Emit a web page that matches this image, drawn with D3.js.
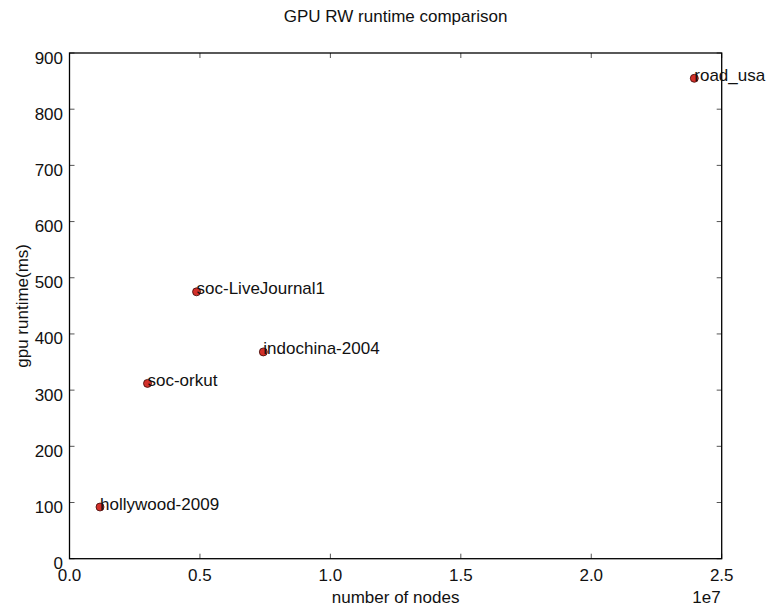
<!DOCTYPE html>
<html><head><meta charset="utf-8">
<script src="https://cdn.jsdelivr.net/npm/d3@7"></script>
<style>
html,body{margin:0;padding:0;background:#fff;}
svg{display:block;font-family:"Liberation Sans",Arial,Helvetica,sans-serif;}
</style></head>
<body>
<svg id="chart" width="767" height="607"></svg>
<script>
const names = ["hollywood-2009","soc-orkut","soc-LiveJournal1","indochina-2004","road_usa"];
const nodes = [1.17e6, 2.99e6, 4.87e6, 7.43e6, 23.95e6];
const runtime = [92, 312, 475, 368, 855];
const xTicks = [0, 0.5e7, 1.0e7, 1.5e7, 2.0e7, 2.5e7];
const yTicks = [0, 100, 200, 300, 400, 500, 600, 700, 800, 900];

const svg = d3.select("#chart");
const L = 69.5, R = 721.7, T = 53, B = 558.7;
const x = d3.scaleLinear().domain([0, 2.5e7]).range([L, R]);
const y = d3.scaleLinear().domain([0, 900]).range([B, T]);
const fs = 17;

// title
svg.append("text").attr("x", (L+R)/2).attr("y", 22).attr("text-anchor","middle")
  .attr("font-size", fs).attr("fill","#111").text("GPU RW runtime comparison");

// ticks (inside, all four sides)
const tl = 5;
const tg = svg.append("g").attr("stroke","#555").attr("stroke-width",1);
xTicks.forEach(v=>{
  tg.append("line").attr("x1",x(v)).attr("x2",x(v)).attr("y1",B).attr("y2",B-tl);
  tg.append("line").attr("x1",x(v)).attr("x2",x(v)).attr("y1",T).attr("y2",T+tl);
});
yTicks.forEach(v=>{
  tg.append("line").attr("x1",L).attr("x2",L+tl).attr("y1",y(v)).attr("y2",y(v));
  tg.append("line").attr("x1",R).attr("x2",R-tl).attr("y1",y(v)).attr("y2",y(v));
});

// frame
svg.append("rect").attr("x",L).attr("y",T).attr("width",R-L).attr("height",B-T)
  .attr("fill","none").attr("stroke","#000").attr("stroke-width",1.3);

// tick labels
svg.append("g").selectAll("text").data(xTicks).join("text")
  .attr("x", d=>x(d)).attr("y", B+22).attr("text-anchor","middle")
  .attr("font-size", fs).attr("fill","#111").text(d=>(d/1e7).toFixed(1));
svg.append("g").selectAll("text").data(yTicks).join("text")
  .attr("x", L-6.5).attr("y", d=>y(d)+10.5).attr("text-anchor","end")
  .attr("font-size", fs).attr("fill","#111").text(d=>d);

// offset label
svg.append("text").attr("x", R-1).attr("y", 603).attr("text-anchor","end")
  .attr("font-size", fs).attr("fill","#111").text("1e7");

// axis labels
svg.append("text").attr("x", (L+R)/2).attr("y", 603).attr("text-anchor","middle")
  .attr("font-size", fs).attr("fill","#111").text("number of nodes");
svg.append("text").attr("transform", `translate(28,${(T+B)/2}) rotate(-90)`)
  .attr("text-anchor","middle").attr("font-size", fs).attr("fill","#111").text("gpu runtime(ms)");

// points
const data = names.map((n,i)=>({name:n, nodes:nodes[i], rt:runtime[i]}));
svg.append("g").selectAll("circle").data(data).join("circle")
  .attr("cx", d=>x(d.nodes)).attr("cy", d=>y(d.rt)).attr("r", 4)
  .attr("fill","#d3302a").attr("stroke","#3a0a08").attr("stroke-width",0.8);
svg.append("g").selectAll("text").data(data).join("text")
  .attr("x", d=>x(d.nodes)).attr("y", d=>y(d.rt)+2.5)
  .attr("font-size", fs).attr("fill","#111").text(d=>d.name);
</script>
</body></html>
